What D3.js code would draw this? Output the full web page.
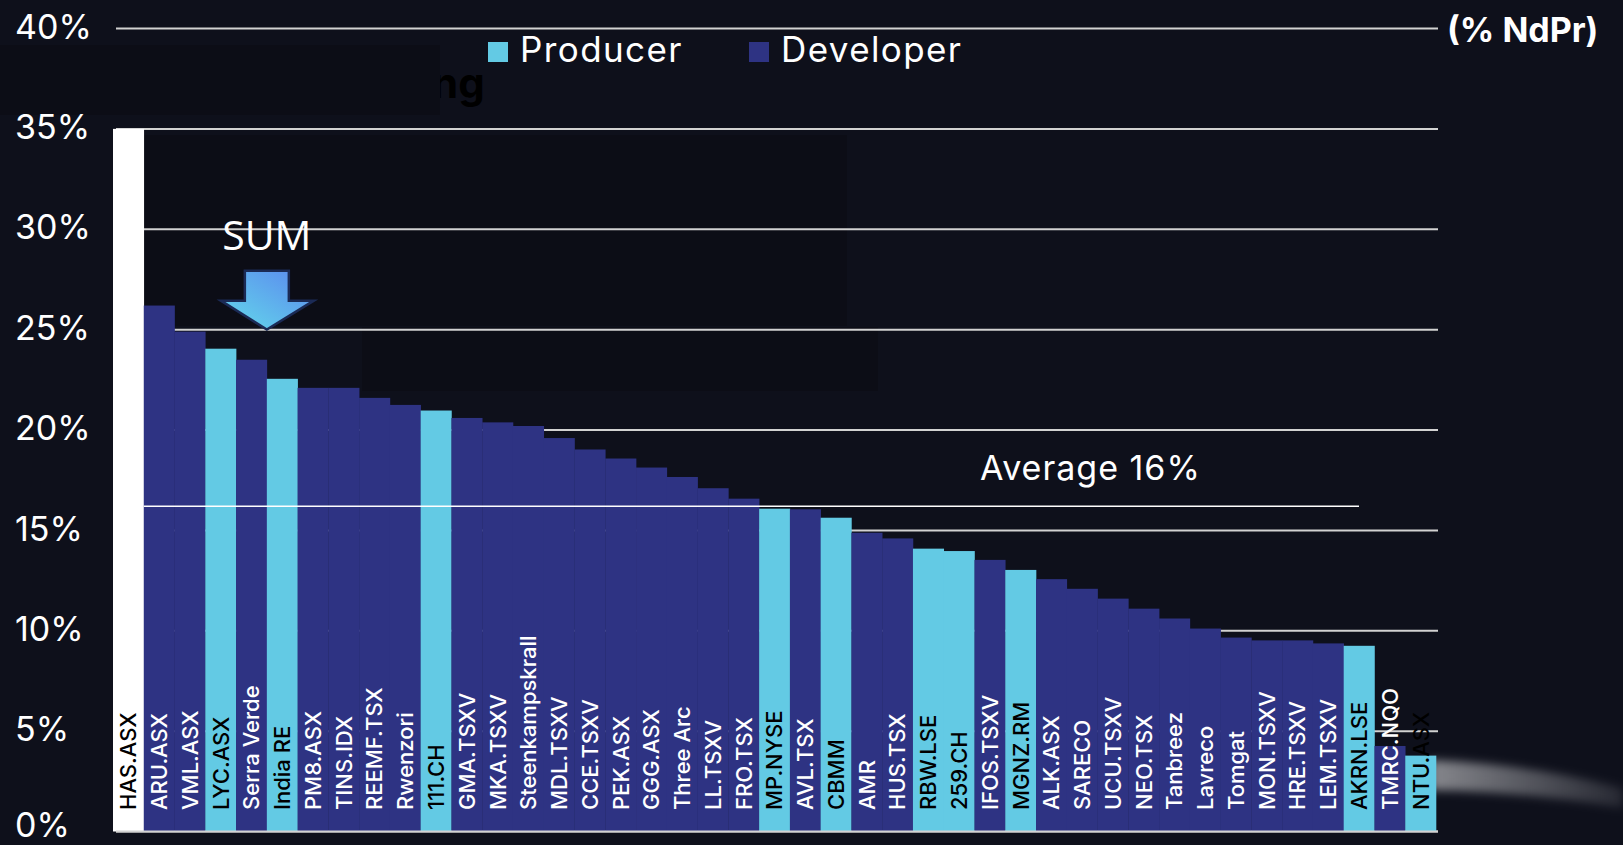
<!DOCTYPE html>
<html>
<head>
<meta charset="utf-8">
<script src="https://cdn.jsdelivr.net/npm/d3@7"></script>
<style>
  html, body { margin: 0; padding: 0; background: #0e101b; }
  svg { display: block; font-family: Inter, 'Open Sans', sans-serif; }
</style>
</head>
<body>
<div class="vis-container"></div>
<script>
// companies, sorted by grade
const companies = ['HAS.ASX', 'ARU.ASX', 'VML.ASX', 'LYC.ASX', 'Serra Verde', 'India RE', 'PM8.ASX',
  'TINS.IDX', 'REEMF.TSX', 'Rwenzori', '111.CH', 'GMA.TSXV', 'MKA.TSXV', 'Steenkampskrall',
  'MDL.TSXV', 'CCE.TSXV', 'PEK.ASX', 'GGG.ASX', 'Three Arc', 'LL.TSXV', 'FRO.TSX', 'MP.NYSE',
  'AVL.TSX', 'CBMM', 'AMR', 'HUS.TSX', 'RBW.LSE', '259.CH', 'IFOS.TSXV', 'MGNZ.RM', 'ALK.ASX',
  'SARECO', 'UCU.TSXV', 'NEO.TSX', 'Tanbreez', 'Lavreco', 'Tomgat', 'MON.TSXV', 'HRE.TSXV',
  'LEM.TSXV', 'AKRN.LSE', 'TMRC.NQO', 'NTU.ASX'];

// % NdPr
const ndpr = [35, 26.2, 24.9, 24.05, 23.5, 22.55, 22.1, 22.1, 21.6, 21.25, 20.97, 20.6, 20.38,
  20.2, 19.6, 19.03, 18.58, 18.13, 17.66, 17.1, 16.58, 16.08, 16.05, 15.63, 14.88, 14.6, 14.09,
  13.97, 13.53, 13.03, 12.57, 12.09, 11.6, 11.1, 10.61, 10.11, 9.66, 9.52, 9.52, 9.37, 9.25,
  4.26, 3.78];

// H = highlighted, P = producer, D = developer
const stage = ['H', 'D', 'D', 'P', 'D', 'P', 'D', 'D', 'D', 'D', 'P', 'D', 'D', 'D', 'D', 'D', 'D',
  'D', 'D', 'D', 'D', 'P', 'D', 'P', 'D', 'D', 'P', 'P', 'D', 'P', 'D', 'D', 'D', 'D', 'D', 'D',
  'D', 'D', 'D', 'D', 'P', 'D', 'P'];

const yTicks = [0, 5, 10, 15, 20, 25, 30, 35, 40];
const legendItems = ['Producer', 'Developer'];
const averageValue = 16.2;
const averageLabel = 'Average 16%';

const width = 1623;
const height = 845;
const colors = { H: '#ffffff', P: '#63cae4', D: '#2e3383' };
const bg = '#0e101b';

const data = companies.map((name, i) => ({ name, value: ndpr[i], stage: stage[i] }));

const svg = d3
  .select('.vis-container')
  .append('svg')
  .attr('width', width)
  .attr('height', height);

svg.append('rect').attr('width', width).attr('height', height).attr('fill', bg);

const defs = svg.append('defs');
const arrowGrad = defs
  .append('linearGradient')
  .attr('id', 'arrowGrad')
  .attr('x1', '0%').attr('y1', '100%')
  .attr('x2', '100%').attr('y2', '0%');
arrowGrad.append('stop').attr('offset', '0%').attr('stop-color', '#63dcea');
arrowGrad.append('stop').attr('offset', '100%').attr('stop-color', '#5b86ef');

const glowGrad = defs
  .append('linearGradient')
  .attr('id', 'glowGrad')
  .attr('x1', '0%').attr('x2', '100%');
glowGrad.append('stop').attr('offset', '0%').attr('stop-color', '#ffffff').attr('stop-opacity', 0.5);
glowGrad.append('stop').attr('offset', '100%').attr('stop-color', '#ffffff').attr('stop-opacity', 0.1);
defs.append('filter').attr('id', 'blur')
  .attr('x', '-20%').attr('y', '-50%').attr('width', '140%').attr('height', '200%')
  .append('feGaussianBlur').attr('stdDeviation', 5);

// scales
const xScale = d3.scaleBand().domain(companies).range([113, 1436]).padding(0);
const yScale = d3.scaleLinear().domain([0, 40]).range([831.5, 28.5]);
const gridLeft = 116;
const gridRight = 1438;

// leftover boxes from the slide behind the chart
svg.append('text')
  .attr('x', 432).attr('y', 98)
  .attr('font-size', 42).attr('font-weight', 700)
  .attr('fill', '#000000')
  .text('ng');
const boxes = svg.append('g').attr('fill', '#0c0d16');
boxes.append('rect').attr('x', 0).attr('y', 45).attr('width', 440).attr('height', 70);
boxes.append('rect').attr('x', 142).attr('y', 135).attr('width', 705).attr('height', 191);
boxes.append('rect').attr('x', 362).attr('y', 327).attr('width', 516).attr('height', 64);

// glow swoosh at bottom right
svg.append('path')
  .attr('d', 'M1430,760 Q1530,764 1623,788 L1623,808 Q1530,792 1430,790 Z')
  .attr('fill', 'url(#glowGrad)')
  .attr('filter', 'url(#blur)');

// grid lines
svg.append('g')
  .attr('class', 'grid')
  .selectAll('line')
  .data(yTicks)
  .join('line')
  .attr('x1', gridLeft)
  .attr('x2', gridRight)
  .attr('y1', (d) => yScale(d))
  .attr('y2', (d) => yScale(d))
  .attr('stroke', '#d2d2d2')
  .attr('stroke-width', 2);

// y tick labels (the bottom one nudged up to stay inside the frame)
svg.append('g')
  .attr('class', 'y-labels')
  .selectAll('text')
  .data(yTicks)
  .join('text')
  .attr('x', 15)
  .attr('y', (d) => yScale(d))
  .attr('dy', (d) => (d === 0 ? '0.15em' : '0.3em'))
  .attr('font-size', 34)
  .attr('fill', '#ffffff')
  .text((d) => d + '%');

// bars
svg.append('g')
  .attr('class', 'bars')
  .selectAll('rect')
  .data(data)
  .join('rect')
  .attr('x', (d) => xScale(d.name))
  .attr('width', xScale.bandwidth() + 0.3)
  .attr('y', (d) => yScale(d.value))
  .attr('height', (d) => yScale(0) - yScale(d.value))
  .attr('fill', (d) => colors[d.stage]);

// baseline
svg.append('line')
  .attr('x1', gridLeft).attr('x2', gridRight)
  .attr('y1', yScale(0)).attr('y2', yScale(0))
  .attr('stroke', '#d2d2d2').attr('stroke-width', 2);

// average line
svg.append('line')
  .attr('x1', xScale(companies[1]))
  .attr('x2', 1359)
  .attr('y1', yScale(averageValue))
  .attr('y2', yScale(averageValue))
  .attr('stroke', '#ffffff')
  .attr('stroke-width', 1.5);

svg.append('text')
  .attr('x', 980)
  .attr('y', 480)
  .attr('font-size', 34)
  .attr('letter-spacing', 1)
  .attr('fill', '#ffffff')
  .text(averageLabel);

// category labels
svg.append('g')
  .attr('class', 'x-labels')
  .selectAll('text')
  .data(data)
  .join('text')
  .attr('transform', (d) => `translate(${xScale(d.name) + xScale.bandwidth() / 2},810) rotate(-90)`)
  .attr('dy', '0.36em')
  .attr('font-size', 22)
  .attr('font-weight', 500)
  .attr('fill', (d) => (d.stage === 'D' ? '#ffffff' : '#000000'))
  .text((d) => d.name);

// legend
const legend = svg.append('g').attr('class', 'legend');
const legendX = [488, 749];
legend
  .selectAll('rect')
  .data(legendItems)
  .join('rect')
  .attr('x', (d, i) => legendX[i])
  .attr('y', 42)
  .attr('width', 20)
  .attr('height', 20)
  .attr('fill', (d, i) => (i === 0 ? colors.P : colors.D));
legend
  .selectAll('text')
  .data(legendItems)
  .join('text')
  .attr('x', (d, i) => legendX[i] + 32)
  .attr('y', 62)
  .attr('font-size', 35)
  .attr('letter-spacing', 1.4)
  .attr('fill', '#ffffff')
  .text((d) => d);

// unit label
svg.append('text')
  .attr('x', 1447)
  .attr('y', 42)
  .attr('font-size', 34)
  .attr('font-weight', 700)
  .attr('fill', '#ffffff')
  .text('(% NdPr)');

// SUM arrow, pointing at the 25% line
const tipX = xScale('India RE');
const tipY = yScale(25);
const arrow = [
  [tipX - 22, tipY - 59], [tipX + 22, tipY - 59], [tipX + 22, tipY - 29],
  [tipX + 47, tipY - 29], [tipX, tipY], [tipX - 46, tipY - 29], [tipX - 22, tipY - 29]
];
svg.append('path')
  .attr('d', d3.line()(arrow) + 'Z')
  .attr('fill', 'url(#arrowGrad)')
  .attr('stroke', '#1b2a55')
  .attr('stroke-width', 2.5)
  .attr('stroke-linejoin', 'miter');

svg.append('text')
  .attr('x', tipX)
  .attr('y', 250)
  .attr('text-anchor', 'middle')
  .attr('font-family', "'Open Sans', sans-serif")
  .attr('font-size', 41)
  .attr('fill', '#ffffff')
  .text('SUM');
</script>
</body>
</html>
